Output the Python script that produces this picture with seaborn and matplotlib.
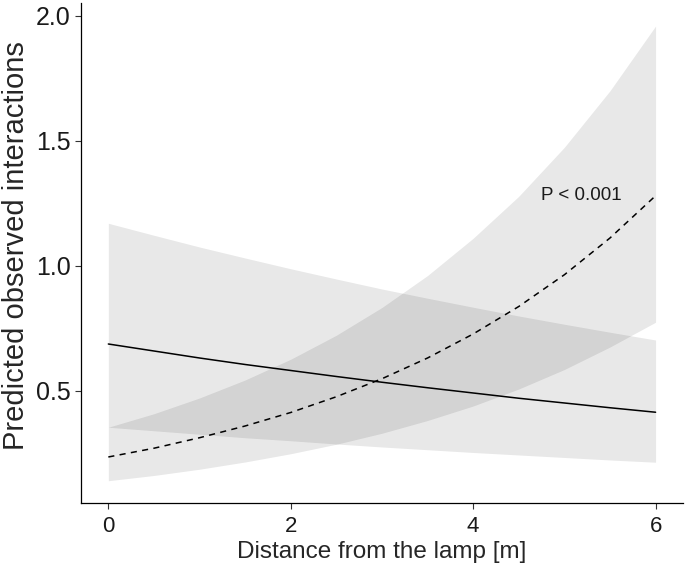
import numpy as np
import pandas as pd
import matplotlib
matplotlib.use("Agg")
import matplotlib.pyplot as plt
import seaborn as sns

# distance values (m)
distance = [0, 0.5, 1, 1.5, 2, 2.5, 3, 3.5, 4, 4.5, 5, 5.5, 6]

# series A (solid line, decreasing)
solid_fit = [0.687, 0.659, 0.631, 0.605, 0.581, 0.557, 0.534, 0.512, 0.491, 0.470, 0.451, 0.432, 0.414]
solid_upper = [1.170, 1.122, 1.075, 1.031, 0.988, 0.947, 0.907, 0.870, 0.834, 0.799, 0.766, 0.734, 0.703]
solid_lower = [0.354, 0.340, 0.326, 0.312, 0.300, 0.287, 0.275, 0.264, 0.253, 0.243, 0.233, 0.223, 0.214]

# series B (dashed line, increasing)
dashed_fit = [0.235, 0.270, 0.312, 0.359, 0.413, 0.476, 0.548, 0.631, 0.727, 0.837, 0.964, 1.111, 1.280]
dashed_upper = [0.354, 0.408, 0.471, 0.543, 0.626, 0.722, 0.833, 0.961, 1.110, 1.278, 1.474, 1.700, 1.959]
dashed_lower = [0.140, 0.161, 0.186, 0.215, 0.248, 0.286, 0.330, 0.381, 0.439, 0.507, 0.585, 0.675, 0.774]

x_ticks = [0, 2, 4, 6]
y_ticks = [0.5, 1.0, 1.5, 2.0]
y_tick_labels = ["0.5", "1.0", "1.5", "2.0"]
annotation = "P < 0.001"

sns.set_theme(style="ticks")
plt.rcParams['font.family'] = ['Liberation Sans', 'DejaVu Sans']

df = pd.DataFrame({
    "distance": distance * 2,
    "pred": solid_fit + dashed_fit,
    "group": ["solid"] * len(distance) + ["dashed"] * len(distance),
})

fig = plt.figure(figsize=(6.85, 5.70), dpi=100)
ax = fig.add_axes([0.1182, 0.1167, 0.997 - 0.1182, 0.9947 - 0.1167])

ax.fill_between(distance, solid_lower, solid_upper, color="black", alpha=0.09, linewidth=0)
ax.fill_between(distance, dashed_lower, dashed_upper, color="black", alpha=0.09, linewidth=0)

sns.lineplot(data=df, x="distance", y="pred", style="group",
             style_order=["solid", "dashed"],
             dashes={"solid": "", "dashed": (4, 3.5)},
             color="black", linewidth=1.1, legend=False, ax=ax)

ax.text(5.19, 1.28, annotation, ha="center", va="center", fontsize=13.5, color="#1a1a1a")

ax.set_xlim(-0.3, 6.3)
ax.set_ylim(0.049, 2.051)
ax.set_xticks(x_ticks)
ax.set_yticks(y_ticks)
ax.set_yticklabels(y_tick_labels)
ax.set_xlabel("Distance from the lamp [m]", fontsize=17.5, labelpad=3)
ax.set_ylabel("Predicted observed interactions", fontsize=21, labelpad=4)
ax.yaxis.label.set_y(0.516)
ax.tick_params(axis="both", length=4, width=0.8, color="#333333", labelcolor="#1a1a1a")
ax.tick_params(axis="x", labelsize=16, pad=5)
ax.tick_params(axis="y", labelsize=18, pad=3.5)
for s in ["top", "right"]:
    ax.spines[s].set_visible(False)
for s in ["left", "bottom"]:
    ax.spines[s].set_linewidth(0.9)
    ax.spines[s].set_color("black")

fig.savefig("out.png", dpi=100)
